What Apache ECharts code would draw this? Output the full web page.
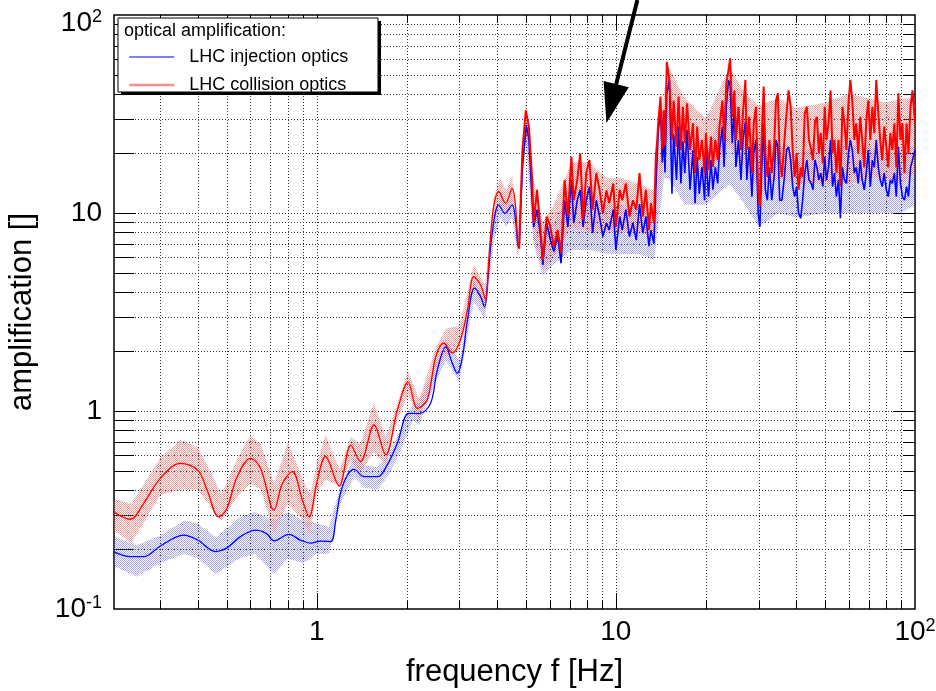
<!DOCTYPE html>
<html><head><meta charset="utf-8">
<script src="https://cdn.jsdelivr.net/npm/echarts@6/dist/echarts.min.js"></script>
<style>html,body{margin:0;padding:0;background:#fff}#c{width:936px;height:691px}</style>
</head><body><div id="c"></div>
<script>
// ---------------- data ----------------
// LHC collision optics (red): smooth + mid part
const colFreqA = [0.209,0.238,0.264,0.30,0.35,0.40,0.43,0.47,0.50,0.542,0.60,0.649,0.719,0.768,0.829,0.895,0.943,1.0,1.07,1.188,1.30,1.40,1.555,1.70,1.86,2.02,2.17,2.34,2.50,2.66,2.84,3.02,3.19,3.35,3.53,3.67,3.76,3.89,4.06,4.28,4.5,4.62,4.70,4.75,
  4.87,5.0,5.12,5.25,5.31,5.45,5.6,5.7,5.87,6.02,6.2,6.39,6.56,6.74,6.91,7.1,7.23,7.43,7.6,7.77,7.96,8.16,8.36,8.6,8.82,9.05,9.3,9.5,9.8,10.0,10.3,10.5,10.8,11.1,11.4,11.7,12.0,12.3,12.6,12.9,13.1,13.4,13.6,13.75,13.85,14.1];
const colAmpA = [0.31,0.284,0.342,0.457,0.544,0.503,0.399,0.292,0.32,0.466,0.577,0.513,0.316,0.431,0.494,0.355,0.292,0.433,0.589,0.418,0.673,0.555,0.85,0.60,1.01,1.40,1.03,1.14,1.88,2.2,1.96,2.28,3.24,4.77,4.33,3.64,5.79,10.4,12.8,11.2,13.3,10.8,7.03,6.6,
  20.8,33,27.3,14.7,8.9,13.1,8.2,5.8,9.6,8.7,6.76,8.2,6.26,14.7,9.6,19.2,11.6,14.7,20,9.2,15.9,18.5,10.4,15.9,13.1,10,13,11.2,14.1,8.5,13.1,11.6,14.1,9.6,11.6,10.4,15.9,9.6,13.1,8.2,11.2,8.9,19.2,23.4,28.4,38.7];
// LHC injection optics (blue): smooth + mid part
const injFreqA = [0.209,0.238,0.264,0.30,0.359,0.40,0.459,0.50,0.556,0.625,0.68,0.719,0.808,0.88,0.955,1.03,1.114,1.158,1.20,1.267,1.333,1.44,1.60,1.72,1.86,2.03,2.2,2.4,2.53,2.7,2.84,2.95,3.07,3.19,3.37,3.53,3.64,3.73,3.86,4.06,4.26,4.5,4.62,4.7,4.75,
  4.87,5.02,5.12,5.25,5.31,5.45,5.6,5.7,5.87,6.02,6.2,6.39,6.56,6.74,6.91,7.1,7.23,7.43,7.6,7.77,7.96,8.16,8.36,8.6,8.82,9.05,9.3,9.5,9.8,10.0,10.3,10.5,10.8,11.1,11.4,11.7,12.0,12.3,12.6,12.9,13.1,13.4,13.6,13.85,14.1];
const injAmpA = [0.195,0.184,0.184,0.208,0.236,0.223,0.195,0.203,0.232,0.25,0.24,0.221,0.238,0.223,0.215,0.220,0.219,0.282,0.384,0.475,0.507,0.466,0.466,0.534,0.687,0.973,0.97,1.09,1.61,2.11,1.74,1.55,1.88,2.88,4.17,3.78,3.36,4.59,7.9,11.0,9.96,11.0,9.2,6.9,6.7,
  17.1,27.8,23.4,11.6,8.5,10.4,7.6,5.46,8.9,7.45,6.38,7.6,5.57,11.6,8.5,14.7,8.9,11.6,13.1,8.5,11.6,13.6,7.9,11.6,9.6,7.6,8.9,8.2,10.4,6.5,9.6,8.2,10.4,7.6,8.9,7.3,11.1,7.9,9.6,6.8,8.2,7.0,13.1,25.3,33];
// shared frequency grid of the noisy part above 14 Hz
const noiseFreq = [14.3,14.45,14.6,14.8,15.1,15.4,15.6,15.95,16.2,16.5,16.75,17.0,17.3,17.7,18.1,18.4,18.7,19.0,19.4,19.8,20.0,20.4,20.8,21.1,21.5,21.9,22.2,22.7,23.0,23.4,23.8,24.1,24.5,24.9,25.2,25.7,26.2,26.6,27.1,27.4,27.9,28.5,28.9,29.4,29.9,30.3,30.7,31.2,31.6,32.1,32.6,33.2,33.8,34.3,34.8,35.3,35.9,36.6,37.2,37.8,38.4,39.0,39.6,40.2,40.8,41.5,42.1,42.8,43.5,44.2,45.0,45.6,46.3,47.0,47.7,48.4,49.2,49.9,50.6,51.4,52.2,53.0,53.8,54.6,55.5,56.3,57.2,58.1,59.0,59.9,60.8,61.7,62.7,63.6,64.6,65.6,66.6,67.7,68.7,69.8,70.9,72.0,73.1,74.2,75.4,76.5,77.7,78.9,80.2,81.4,82.7,84.0,85.3,86.6,88.0,89.4,90.8,92.2,93.7,95.1,96.6,98.1,100];
const colNoiseAmp = [21,33,22,58,47,23.4,37,21.6,38.7,20.8,34.4,22.5,35.8,20.8,28.4,15.9,27.3,18.5,23.4,15.9,25.3,16.5,24.3,17.1,23.4,18.5,27.3,37,23.4,45,52.8,60.4,30.6,41.6,23.4,34.4,20.8,31.9,47,20.8,30.6,15.9,28.4,34.4,13.1,10.8,23.4,43.5,20,15.2,23.4,15.9,21.6,37,40.2,18.5,15.2,23.4,31.9,41.6,34.4,20.8,15.2,20,13.1,17,15.2,31.9,34.4,23.4,20.8,18.5,29,30.6,20,25.3,17.8,34.4,23.4,28.4,41.6,20,23.4,15.9,23.4,13.6,34.4,28.4,20.8,35.8,47,37,23.4,28.4,20,30.6,23.4,17,29,37,23.4,34.4,25.3,47,31.9,23.4,18.5,27.3,21.6,17,25.3,20.8,28.4,17,40.2,23.4,28.4,15.9,28.4,20,34.4,41.6,28.4];
const injNoiseAmp = [18,25,16,40,47,12.5,25,14.7,27.3,14.1,23,15.9,26.3,13.1,20.8,11.2,19.2,12.5,17.1,11.6,20,12.1,18.5,13.1,17.1,14.1,20.8,27.3,17.1,34.4,47,44,22.5,34.4,17.1,23.4,14.7,23.4,29,14.7,21.6,12.1,20,23.4,10,8.5,15.9,28.4,13.1,11.6,17,11.6,15.2,23.4,21.6,11.6,11.6,15.2,20.8,21.6,18.5,13.6,12.1,13.6,10,9.4,11.6,15.9,18.5,14.7,14.1,13.1,18.5,17,14.7,15.9,13.6,19.2,14.7,17,23.4,13.6,15.9,12.1,14.7,9.4,17,14.7,14.1,20,23.4,20.8,15.9,17,14.1,18.5,14.7,13.1,15.9,20.8,13.6,18.5,17,23.4,17,14.7,13.6,15.9,13.1,12.1,14.7,14.1,15.9,12.1,21.6,14.1,12.1,11.6,13.6,12.1,17,18.5,20.8];
// uncertainty bands (stippled areas)
const colBandFreq = [0.209,0.24,0.30,0.35,0.40,0.45,0.48,0.55,0.60,0.65,0.72,0.80,0.90,0.95,1.0,1.07,1.19,1.3,1.4,1.55,1.7,1.86,2.02,2.2,2.5,2.7,3.0,3.35,3.65,3.9,4.1,4.3,4.5,4.7,5.0,5.3,5.7,6.2,7.1,8.2,9.3,10.5,12,13.4,14.5,15,17,20,24,27,30,35,40,50,60,70,80,90,100];
const colBandLo = [0.25,0.215,0.376,0.40,0.40,0.316,0.28,0.38,0.43,0.40,0.24,0.34,0.28,0.24,0.39,0.45,0.42,0.56,0.49,0.62,0.53,0.9,1.2,0.9,1.65,1.9,2.0,4.2,3.2,9,11,10,11.5,6.2,28,7.5,5.2,6,8.5,8,8,8,8,7.5,20,24,18,15,22,17,13,15,14,14,14,15,15,14,16];
const colBandHi = [0.36,0.34,0.58,0.714,0.66,0.466,0.38,0.6,0.757,0.68,0.43,0.70,0.45,0.38,0.54,0.76,0.51,0.74,0.68,1.11,0.74,1.09,1.6,1.15,2.1,2.6,2.7,5.5,4.3,12,15,13,15.5,8,38,15,9,11,18,18,15,15,14,13,42,55,38,30,55,40,35,38,34,36,40,38,36,38,38];
const injBandFreq = [0.209,0.25,0.30,0.36,0.40,0.46,0.55,0.62,0.72,0.80,0.90,1.0,1.1,1.2,1.33,1.45,1.6,1.75,1.9,2.1,2.2,2.5,2.7,3.0,3.35,3.65,3.9,4.1,4.3,4.5,4.7,5.0,5.3,5.7,6.2,7.1,8.2,9.3,10.5,12,13.4,14.5,15,17,20,24,27,30,35,40,50,60,70,80,90,100];
const injBandLo = [0.165,0.146,0.17,0.19,0.18,0.15,0.18,0.19,0.15,0.18,0.17,0.19,0.19,0.34,0.46,0.41,0.40,0.48,0.62,0.9,0.85,1.4,1.8,1.4,3.6,2.9,7,9.5,8.5,9.5,6,23,7,4.8,5.5,6.5,6.5,6.2,6.2,6.2,5.8,15,15,11,11,14,11,8.5,10,9.5,10,10,10,10,10,11];
const injBandHi = [0.232,0.21,0.235,0.28,0.27,0.23,0.29,0.31,0.28,0.31,0.28,0.27,0.26,0.42,0.58,0.53,0.52,0.62,0.8,1.1,1.1,1.75,2.3,1.8,4.6,3.7,9,12,11,12,7.5,30,12,7.5,9,13,13,11,11,11,9,30,40,28,20,40,30,22,22,20,22,22,22,20,20,22];
// axis ticks / labels
const xTickValues = [1, 10, 100];
const xTickLabels = [['1',''], ['10',''], ['10','2']];
const yTickValues = [0.1, 1, 10, 100];
const yTickLabels = [['10','-1'], ['1',''], ['10',''], ['10','2']];
const seriesNames = ['LHC injection optics', 'LHC collision optics'];
const legendTitle = 'optical amplification:';
const xName = 'frequency f [Hz]';
const yName = 'amplification []';
const arrowTip = [9.3, 28.5];
const arrowTail = [11.8, 119];
const X_MIN = 0.21, X_MAX = 100, Y_MIN = 0.1, Y_MAX = 100;
const SMOOTH_END = 4.75;

// ---------------- helpers ----------------
const FONT = "'Liberation Sans', Arial, Helvetica, sans-serif";
function stipple(r, g, b, a) {
  const c = document.createElement('canvas'); c.width = 2; c.height = 2;
  const ctx = c.getContext('2d');
  ctx.fillStyle = 'rgba(' + r + ',' + g + ',' + b + ',' + a + ')';
  ctx.fillRect(0, 0, 1, 1); ctx.fillRect(1, 1, 1, 1);
  return { type: 'pattern', image: c, repeat: 'repeat' };
}
function pairs(F, A) { return F.map((f, i) => [f, A[i]]); }
const colAll = pairs(colFreqA.concat(noiseFreq), colAmpA.concat(colNoiseAmp));
const injAll = pairs(injFreqA.concat(noiseFreq), injAmpA.concat(injNoiseAmp));
function splitAt(data) {
  const k = data.findIndex(p => p[0] >= SMOOTH_END);
  return [data.slice(0, k + 1), data.slice(k)];
}
const [colSmooth, colRough] = splitAt(colAll);
const [injSmooth, injRough] = splitAt(injAll);

function makeLabel(labels, values, topValue) {
  return function (v) {
    for (let i = 0; i < values.length; i++) {
      if (Math.abs(Math.log10(v) - Math.log10(values[i])) < 1e-6) {
        const l = labels[i];
        const top = topValue && Math.abs(Math.log10(v) - Math.log10(topValue)) < 1e-6;
        return (top ? '{e| }\n' : '') + '{b|' + l[0] + '}' + (l[1] ? '{s|' + l[1] + '}' : '');
      }
    }
    return '';
  };
}
const RICH = {
  b: { fontSize: 28, fontFamily: FONT, color: '#000', lineHeight: 30 },
  s: { fontSize: 18, fontFamily: FONT, color: '#000', lineHeight: 18, verticalAlign: 'top' },
  e: { fontSize: 10, lineHeight: 16 }
};

// grid lines / ticks items (decade structure of the log axes)
const gridItems = [];
for (let d = -1; d <= 2; d++) for (let m = 1; m <= 9; m++) {
  const v = m * Math.pow(10, d);
  if (v > X_MIN * 1.0001 && v < X_MAX * 0.9999) gridItems.push([v, 1, 0, m === 1 ? 1 : 0]);
}
for (let d = -1; d <= 2; d++) for (let m = 1; m <= 9; m++) {
  const v = m * Math.pow(10, d);
  if (v > Y_MIN * 1.0001 && v < Y_MAX * 0.9999) gridItems.push([1, v, 1, m === 1 ? 1 : 0]);
}

function bandSeries(name, F, LO, HI, fill, z) {
  return {
    type: 'custom', name: name, coordinateSystem: 'cartesian2d', silent: true, z: z, clip: true,
    data: [[F[0], LO[0]]], encode: { x: 0, y: 1 },
    renderItem: function (params, api) {
      const pts = [];
      for (let i = 0; i < F.length; i++) pts.push(api.coord([F[i], HI[i]]));
      for (let i = F.length - 1; i >= 0; i--) pts.push(api.coord([F[i], LO[i]]));
      return { type: 'polygon', shape: { points: pts }, style: { fill: fill, stroke: null } };
    }
  };
}

const chart = echarts.init(document.getElementById('c'), null, { renderer: 'canvas' });
const option = {
  animation: false,
  backgroundColor: '#fff',
  grid: { left: 114, right: 21, top: 15, bottom: 82, outerBoundsMode: 'none', containLabel: false, show: true, borderColor: '#000', borderWidth: 1.5, backgroundColor: '#fff' },
  xAxis: {
    type: 'log', logBase: 10, min: X_MIN, max: X_MAX,
    axisLine: { show: false }, axisTick: { show: false }, splitLine: { show: false },
    minorTick: { show: false }, minorSplitLine: { show: false },
    axisLabel: { margin: 8, showMinLabel: true, showMaxLabel: true, formatter: makeLabel(xTickLabels, xTickValues, null), rich: RICH, color: '#000' },
    name: xName, nameLocation: 'middle', nameGap: 48,
    nameTextStyle: { fontFamily: FONT, fontSize: 31, color: '#000' }
  },
  yAxis: {
    type: 'log', logBase: 10, min: Y_MIN, max: Y_MAX,
    axisLine: { show: false }, axisTick: { show: false }, splitLine: { show: false },
    minorTick: { show: false }, minorSplitLine: { show: false },
    axisLabel: { margin: 12, showMinLabel: true, showMaxLabel: true, formatter: makeLabel(yTickLabels, yTickValues, Y_MAX), rich: RICH, color: '#000' },
    name: yName, nameLocation: 'middle', nameGap: 76,
    nameTextStyle: { fontFamily: FONT, fontSize: 31, color: '#000' }
  },
  legend: {
    left: 128, top: 48, padding: 0, orient: 'vertical', itemWidth: 45, itemHeight: 14, itemGap: 10,
    selectedMode: false, z: 60,
    textStyle: { fontFamily: FONT, fontSize: 18, color: '#000', padding: [0, 0, 0, 10], lineHeight: 14 },
    data: [
      { name: seriesNames[0], itemStyle: { opacity: 0 }, lineStyle: { color: '#0000ff', width: 1.2 } },
      { name: seriesNames[1], itemStyle: { opacity: 0 }, lineStyle: { color: '#ff8c8c', width: 2.5 } }
    ]
  },
  graphic: [
    { type: 'rect', id: 'legShadow', z: 50, shape: { x: 121, y: 21, width: 260, height: 74 }, style: { fill: '#000' } },
    { type: 'rect', id: 'legBox', z: 51, shape: { x: 118, y: 18, width: 260, height: 74 }, style: { fill: '#fff', stroke: '#000', lineWidth: 1 } },
    { type: 'text', id: 'legTitle', z: 52, x: 124, y: 31, style: { text: legendTitle, fontFamily: FONT, fontSize: 18, fill: '#000', verticalAlign: 'middle', textVerticalAlign: 'middle' } }
  ],
  series: [
    {
      type: 'custom', name: 'grid', coordinateSystem: 'cartesian2d', silent: true, z: 1, clip: false,
      data: gridItems, encode: { x: 0, y: 1 },
      renderItem: function (params, api) {
        const cs = params.coordSys;
        const L = cs.x, R = cs.x + cs.width, T = cs.y, B = cs.y + cs.height;
        const isY = api.value(2) === 1, major = api.value(3) === 1;
        const dot = { stroke: '#333', lineWidth: 1, lineDash: [1, 2] };
        const solid = { stroke: '#000', lineWidth: 1 };
        if (!isY) {
          const p = Math.round(api.coord([api.value(0), Y_MIN])[0]) + 0.5;
          return { type: 'group', children: [
            { type: 'line', shape: { x1: p, y1: T, x2: p, y2: B }, style: dot },
            { type: 'line', shape: { x1: p, y1: B, x2: p, y2: B - (major ? 16 : 8) }, style: solid },
            { type: 'line', shape: { x1: p, y1: T, x2: p, y2: T + (major ? 15 : 8) }, style: solid }
          ] };
        }
        const q = Math.round(api.coord([X_MIN, api.value(1)])[1]) + 0.5;
        return { type: 'group', children: [
          { type: 'line', shape: { x1: L, y1: q, x2: R, y2: q }, style: dot },
          { type: 'line', shape: { x1: L, y1: q, x2: L + (major ? 22 : 20), y2: q }, style: solid },
          { type: 'line', shape: { x1: R, y1: q, x2: R - (major ? 22 : 12), y2: q }, style: solid }
        ] };
      }
    },
    bandSeries('inj band', injBandFreq, injBandLo, injBandHi, stipple(90, 90, 255, 0.55), 2),
    bandSeries('col band', colBandFreq, colBandLo, colBandHi, stipple(255, 80, 80, 0.6), 2),
    { type: 'line', name: seriesNames[0], data: injSmooth, smooth: 0.35, symbol: 'none', silent: true, z: 3, itemStyle: { color: '#0000ff' }, lineStyle: { color: '#0000ff', width: 1.3 } },
    { type: 'line', name: seriesNames[0], data: injRough, smooth: false, symbol: 'none', silent: true, z: 3, itemStyle: { color: '#0000ff' }, lineStyle: { color: '#0000ff', width: 1.6 } },
    { type: 'line', name: seriesNames[1], data: colSmooth, smooth: 0.35, symbol: 'none', silent: true, z: 4, itemStyle: { color: '#ff0000' }, lineStyle: { color: '#ff0000', width: 1.3 } },
    { type: 'line', name: seriesNames[1], data: colRough, smooth: false, symbol: 'none', silent: true, z: 4, itemStyle: { color: '#ff0000' }, lineStyle: { color: '#ff0000', width: 2 } }
  ]
};
chart.setOption(option);

// arrow annotation anchored in data coordinates
const tip = chart.convertToPixel({ gridIndex: 0 }, arrowTip);
const tail = chart.convertToPixel({ gridIndex: 0 }, arrowTail);
const dx = tip[0] - tail[0], dy = tip[1] - tail[1];
const len = Math.sqrt(dx * dx + dy * dy), ux = dx / len, uy = dy / len;
const headLen = 40, headHalf = 13;
const bx = tip[0] - ux * headLen, by = tip[1] - uy * headLen;
chart.setOption({ graphic: [
  { type: 'line', id: 'arrowShaft', z: 70, shape: { x1: tail[0], y1: tail[1], x2: bx, y2: by }, style: { stroke: '#000', lineWidth: 4 } },
  { type: 'polygon', id: 'arrowHead', z: 70, shape: { points: [tip, [bx - uy * headHalf, by + ux * headHalf], [bx + uy * headHalf, by - ux * headHalf]] }, style: { fill: '#000' } }
] });
</script>
</body></html>
